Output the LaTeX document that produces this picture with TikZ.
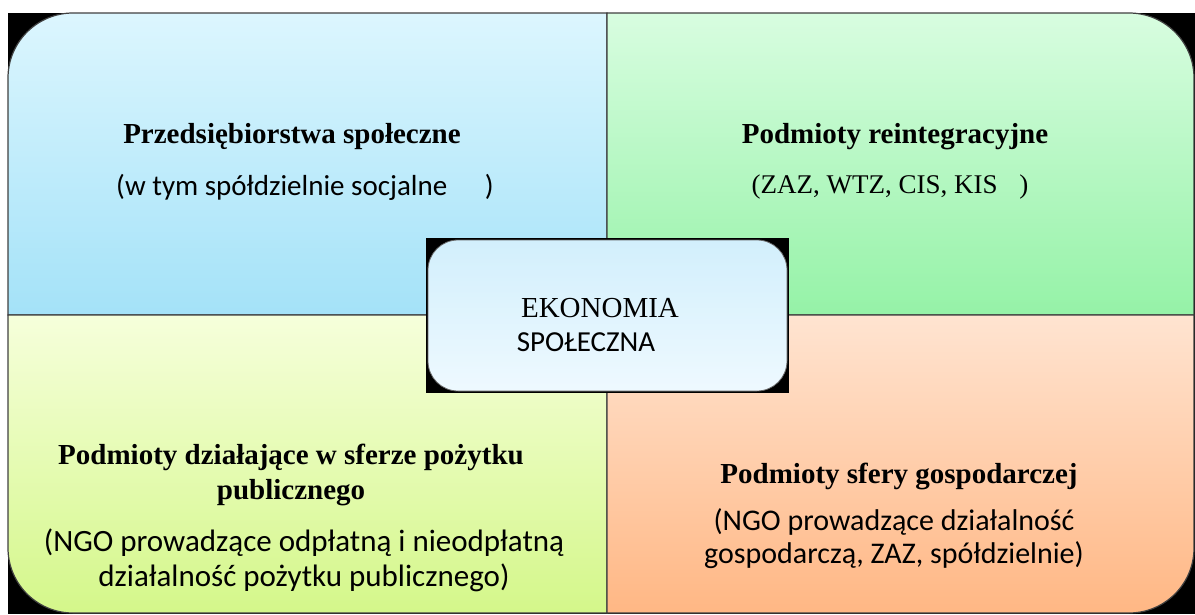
\documentclass[tikz,border=0pt]{standalone}
\usepackage{fontspec}
\setmainfont{Liberation Serif}
\newfontfamily\calibri{Carlito}
\definecolor{tlTop}{HTML}{DCF6FE}
\definecolor{tlBot}{HTML}{A4E2F8}
\definecolor{trTop}{HTML}{D8FDE0}
\definecolor{trBot}{HTML}{95F2A7}
\definecolor{blTop}{HTML}{F6FFDB}
\definecolor{blBot}{HTML}{D4F78A}
\definecolor{brTop}{HTML}{FFE4D1}
\definecolor{brBot}{HTML}{FFB784}
\definecolor{midTop}{HTML}{D2EFFC}
\definecolor{midBot}{HTML}{EEF9FF}

\begin{document}
\begin{tikzpicture}[x=1pt,y=-1pt,
    quad/.style={draw=black!75, line width=1.2pt},
    head/.style={font=\bfseries\fontsize{29}{35}\selectfont, align=center},
    note/.style={font=\calibri\fontsize{29}{35}\selectfont, align=center}]
    \useasboundingbox (0,0) rectangle (1195,614);
    \fill[black] (8,13) rectangle (1195,614);
    % four fields, outer corner rounded
    \draw[quad, top color=tlTop, bottom color=tlBot] (8,315) -- (8,78) .. controls (8,42.1) and (37.1,13) .. (73,13) -- (607,13) -- (607,315) -- cycle;
    \draw[quad, top color=trTop, bottom color=trBot] (607,315) -- (607,13) -- (1129,13) .. controls (1164.9,13) and (1194,42.1) .. (1194,78) -- (1194,315) -- cycle;
    \draw[quad, top color=blTop, bottom color=blBot] (8,315) -- (607,315) -- (607,613) -- (73,613) .. controls (37.1,613) and (8,583.9) .. (8,548) -- cycle;
    \draw[quad, top color=brTop, bottom color=brBot] (607,315) -- (1194,315) -- (1194,548) .. controls (1194,583.9) and (1164.9,613) .. (1129,613) -- (607,613) -- cycle;
    % middle box
    \fill[black] (426,238) rectangle (789,393);
    \draw[draw=black!60, line width=0.8pt, top color=midTop, bottom color=midBot, rounded corners=30] (428,240) rectangle (787,391);
    \node[font=\fontsize{29}{35}\selectfont] (eko) at (600,308) {EKONOMIA};
    \node[font=\calibri\fontsize{29}{35}\selectfont] (spol) at (586,342) {SPOŁECZNA};
    % texts
    \node[head] (tlhead) at (292,137) {Przedsiębiorstwa społeczne};
    \node[note] (tlnote) at (305,187) {(w tym spółdzielnie socjalne\hspace{1.3em})};
    \node[head] (trhead) at (895,137) {Podmioty reintegracyjne};
    \node[font=\fontsize{27}{33}\selectfont] (trnote) at (890,187) {(ZAZ, WTZ, CIS, KIS\hspace{0.8em})};
    \node[head] (blhead) at (291,475) {Podmioty działające w sferze pożytku\\publicznego};
    \node[note, font=\calibri\fontsize{31}{35}\selectfont] (blnote) at (304,560) {(NGO prowadzące odpłatną i nieodpłatną\\działalność pożytku publicznego)};
    \node[head] (brhead) at (899,476) {Podmioty sfery gospodarczej};
    \node[note, font=\calibri\fontsize{30}{33}\selectfont] (brnote) at (894,539) {(NGO prowadzące działalność\\gospodarczą, ZAZ, spółdzielnie)};
\end{tikzpicture}
\end{document}
